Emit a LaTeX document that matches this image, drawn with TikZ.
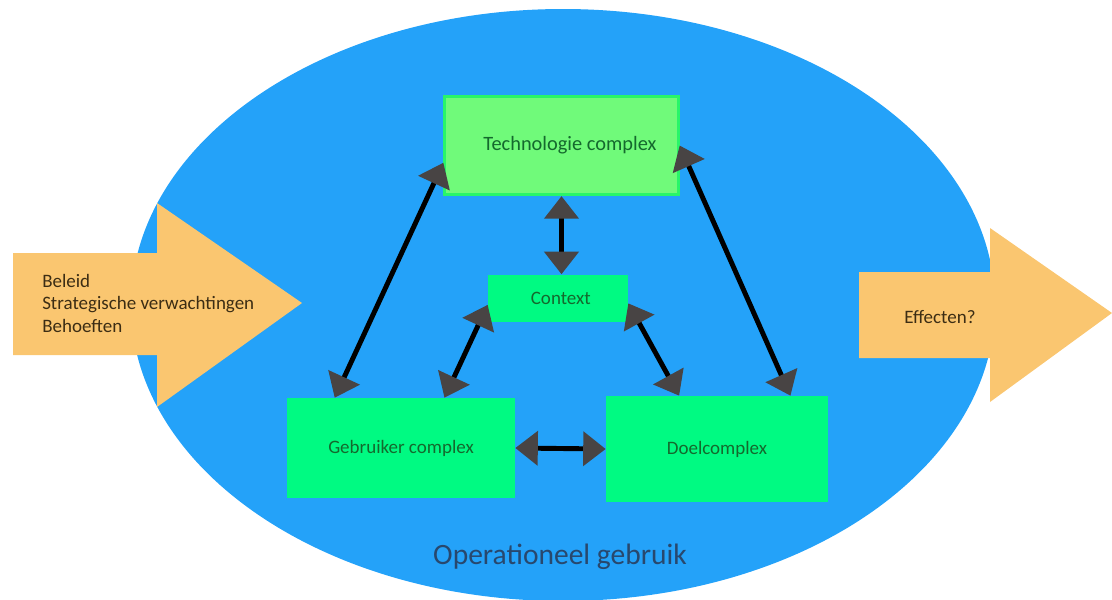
\documentclass[tikz,border=0pt]{standalone}
\usepackage{fontspec}
\setmainfont{Carlito}
\usetikzlibrary{arrows.meta,calc}
\definecolor{ellblue}{RGB}{36,162,249}
\definecolor{boxgreen}{RGB}{0,250,130}
\definecolor{techgreen}{RGB}{112,250,122}
\definecolor{techborder}{RGB}{40,245,105}
\definecolor{txtgreen}{RGB}{20,105,45}
\definecolor{arrorange}{RGB}{250,198,112}
\definecolor{txtbrown}{RGB}{60,45,20}
\definecolor{headgray}{RGB}{72,68,68}
\definecolor{opblue}{RGB}{40,72,110}
\begin{document}
\begin{tikzpicture}[x=0.025cm,y=-0.025cm,
  box/.style={fill=boxgreen,draw=none,inner sep=0pt,font=\fontsize{13.5}{16}\selectfont,text=txtgreen},
  conn/.style={line width=3.5pt,black,
    {Triangle[length=16pt,width=24pt,color=headgray]}-{Triangle[length=16pt,width=24pt,color=headgray]}},
  bigarrow/.style={fill=arrorange,draw=none},
  arrtext/.style={font=\fontsize{13.5}{16}\selectfont,text=txtbrown,inner sep=0pt}]
\useasboundingbox (0,0) rectangle (1112,599);
% background ellipse
\fill[ellblue] (563,305) ellipse [x radius=432, y radius=296];
% input arrow
\fill[arrorange] (13,253) -- (157,253) -- (157,203) -- (302,303) -- (157,407) -- (157,355) -- (13,355) -- cycle;
\node[arrtext,anchor=west,align=left] (inp) at (42,303) {Beleid\\Strategische verwachtingen\\Behoeften};
% output arrow
\fill[arrorange] (859,272) -- (990,272) -- (990,228) -- (1112,313) -- (990,402) -- (990,358) -- (859,358) -- cycle;
\node[arrtext] (out) at (940,317) {Effecten?};
% boxes
\node[box,fill=techgreen,draw=techborder,line width=2pt,minimum width=166pt,minimum height=70pt,font=\fontsize{14.5}{17}\selectfont] (tech) at (561.5,145.5) {\hspace*{12pt}Technologie complex};
\node[box,minimum width=99.6pt,minimum height=34.1pt] (ctx) at (558,298.5) {\hspace*{4pt}Context};
\node[box,minimum width=162.2pt,minimum height=71.1pt] (geb) at (401,448) {Gebruiker complex};
\node[box,minimum width=157.9pt,minimum height=75.4pt] (doel) at (717,449) {Doelcomplex};
% connectors
\draw[conn] ($(tech.north west)!0.67!(tech.south west)$) -- ($(geb.north west)!0.21!(geb.north east)$);
\draw[conn] (tech.east) -- ($(doel.north west)!0.83!(doel.north east)$);
\draw[conn] (tech.south) -- (tech.south |- ctx.north);
\draw[conn] ($(ctx.north west)!0.63!(ctx.south west)$) -- ($(geb.north west)!0.69!(geb.north east)$);
\draw[conn] ($(ctx.north east)!0.6!(ctx.south east)$) -- ($(doel.north west)!0.33!(doel.north east)$);
\draw[conn] (geb.east) -- (doel.west);
% label
\node[font=\fontsize{21}{24}\selectfont,text=opblue,inner sep=0pt] (op) at (560,557) {Operationeel gebruik};
\end{tikzpicture}
\end{document}
